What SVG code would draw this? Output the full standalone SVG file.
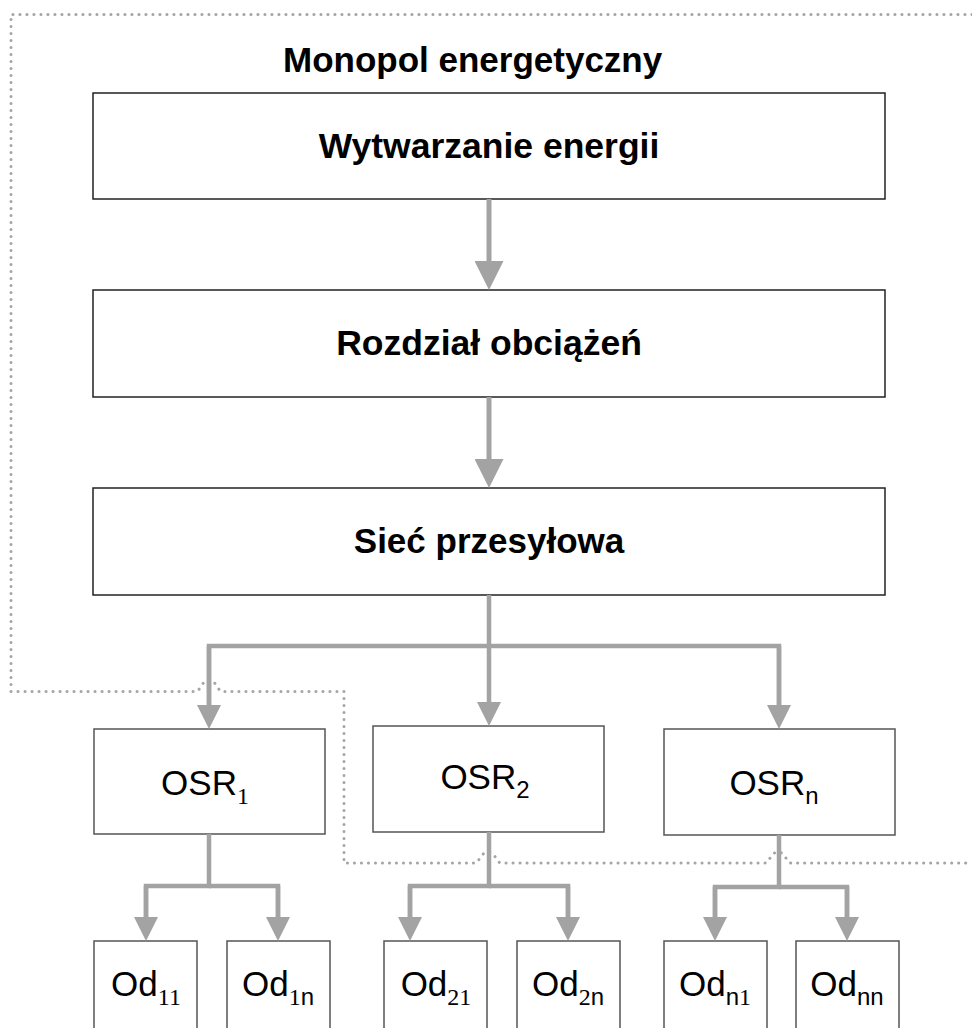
<svg xmlns="http://www.w3.org/2000/svg" width="972" height="1028" viewBox="0 0 972 1028">
  <style>
    .big { fill: #fff; stroke: #222; stroke-width: 1.5; }
    .box { fill: #fff; stroke: #555; stroke-width: 1.5; }
    .tb { font-family: "Liberation Sans", Arial, sans-serif; font-weight: bold; fill: #000; }
    .tr { font-family: "Liberation Sans", Arial, sans-serif; fill: #000; }
    .sub { font-family: "Liberation Serif", "Times New Roman", serif; }
    .con { fill: none; stroke: #a3a3a3; stroke-width: 4.5; }
    .main { stroke-width: 5; }
    .dot { fill: none; stroke: #a5a5a5; stroke-width: 3; stroke-linecap: round; stroke-dasharray: 0.1 6.9; }
  </style>
  <defs>
    <marker id="ah" markerUnits="userSpaceOnUse" markerWidth="24" markerHeight="24" refX="0" refY="12" orient="auto" viewBox="0 0 24 24">
      <path d="M0,0 L24,12 L0,24 z" fill="#a3a3a3"/>
    </marker>
    <marker id="ahb" markerUnits="userSpaceOnUse" markerWidth="29" markerHeight="29" refX="0" refY="14.5" orient="auto" viewBox="0 0 29 29">
      <path d="M0,0 L29,14.5 L0,29 z" fill="#a3a3a3"/>
    </marker>
  </defs>

  <text class="tb" x="283" y="72" font-size="35" text-anchor="start">Monopol energetyczny</text>

  <g id="n-wytwarzanie">
    <rect class="big" x="93" y="93" width="792" height="106"/>
    <text class="tb" x="489" y="158" font-size="35.5" text-anchor="middle">Wytwarzanie energii</text>
  </g>
  <g id="n-rozdzial">
    <rect class="big" x="93" y="290" width="792" height="107"/>
    <text class="tb" x="489" y="355" font-size="35.5" text-anchor="middle">Rozdział obciążeń</text>
  </g>
  <g id="n-siec">
    <rect class="big" x="93" y="488" width="792" height="107"/>
    <text class="tb" x="489" y="553" font-size="35" text-anchor="middle">Sieć przesyłowa</text>
  </g>

  <g id="n-osr1">
    <rect class="box" x="94" y="729" width="231" height="105"/>
    <text class="tr" x="205" y="795" font-size="35" text-anchor="middle">OSR<tspan class="sub" font-size="24" dy="9">1</tspan></text>
  </g>
  <g id="n-osr2">
    <rect class="box" x="373" y="726" width="231" height="106"/>
    <text class="tr" x="485" y="789" font-size="35" text-anchor="middle">OSR<tspan font-size="24" dy="9">2</tspan></text>
  </g>
  <g id="n-osrn">
    <rect class="box" x="664" y="729" width="231" height="106"/>
    <text class="tr" x="774" y="795" font-size="35" text-anchor="middle">OSR<tspan font-size="24" dy="9">n</tspan></text>
  </g>

  <g id="n-od11">
    <rect class="box" x="94" y="941" width="103" height="110"/>
    <text class="tr" x="146" y="996" font-size="35" text-anchor="middle">Od<tspan class="sub" font-size="24" dy="9">11</tspan></text>
  </g>
  <g id="n-od1n">
    <rect class="box" x="227" y="941" width="103" height="110"/>
    <text class="tr" x="278" y="996" font-size="35" text-anchor="middle">Od<tspan class="sub" font-size="24" dy="9">1</tspan><tspan font-size="24">n</tspan></text>
  </g>
  <g id="n-od21">
    <rect class="box" x="384" y="941" width="103" height="110"/>
    <text class="tr" x="436" y="996" font-size="35" text-anchor="middle">Od<tspan class="sub" font-size="24" dy="9">21</tspan></text>
  </g>
  <g id="n-od2n">
    <rect class="box" x="517" y="941" width="103" height="110"/>
    <text class="tr" x="568" y="996" font-size="35" text-anchor="middle">Od<tspan class="sub" font-size="24" dy="9">2</tspan><tspan font-size="24">n</tspan></text>
  </g>
  <g id="n-odn1">
    <rect class="box" x="664" y="941" width="103" height="110"/>
    <text class="tr" x="715" y="996" font-size="35" text-anchor="middle">Od<tspan font-size="24" dy="9">n</tspan><tspan class="sub" font-size="24">1</tspan></text>
  </g>
  <g id="n-odnn">
    <rect class="box" x="796" y="941" width="103" height="110"/>
    <text class="tr" x="847" y="996" font-size="35" text-anchor="middle">Od<tspan font-size="24" dy="9">nn</tspan></text>
  </g>

  <g id="connectors">
    <path class="con main" d="M489,199 V261" marker-end="url(#ahb)"/>
    <path class="con main" d="M489,397 V459" marker-end="url(#ahb)"/>
    <path class="con" d="M489,595 V702" marker-end="url(#ah)"/>
    <path class="con" d="M209,705 V646 H779 V705"/>
    <path class="con" d="M209,646 V705" marker-end="url(#ah)"/>
    <path class="con" d="M779,646 V705" marker-end="url(#ah)"/>

    <path class="con" d="M209,834 V886 H146 V917"/>
    <path class="con" d="M209,886 H278 V917"/>
    <path class="con" d="M146,886 V917" marker-end="url(#ah)"/>
    <path class="con" d="M278,886 V917" marker-end="url(#ah)"/>

    <path class="con" d="M489,832 V886 H410 V917"/>
    <path class="con" d="M489,886 H568 V917"/>
    <path class="con" d="M410,886 V917" marker-end="url(#ah)"/>
    <path class="con" d="M568,886 V917" marker-end="url(#ah)"/>

    <path class="con" d="M779,835 V887 H715 V917"/>
    <path class="con" d="M779,887 H847 V917"/>
    <path class="con" d="M715,887 V917" marker-end="url(#ah)"/>
    <path class="con" d="M847,887 V917" marker-end="url(#ah)"/>

    <path class="dot" d="M972,14.5 H11 V691.5 H196 C200,691.5 202,680 209,680 C216,680 218,691.5 222,691.5 H344 V863 H475 C479,863 481,852 488,852 C495,852 497,863 501,863 H765 C769,863 771,852 778,852 C785,852 787,863 791,863 H972"/>
  </g>
</svg>
